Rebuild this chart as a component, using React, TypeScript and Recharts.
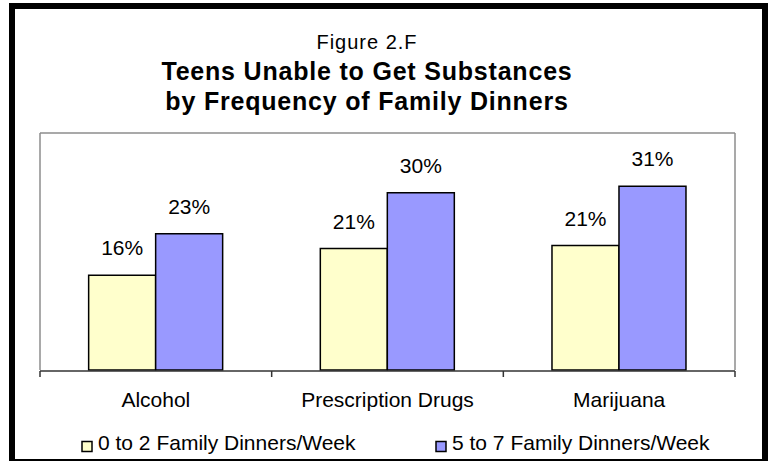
import React from 'react';
import { BarChart, Bar, XAxis, YAxis, LabelList } from 'recharts';

const categories = ['Alcohol', 'Prescription Drugs', 'Marijuana'];
const lowDinners = [16, 20.5, 21];
const highDinners = [23, 29.9, 31];
const seriesNames = ['0 to 2 Family Dinners/Week', '5 to 7 Family Dinners/Week'];
const seriesColors = ['#FFFFCC', '#9999FF'];
const figureLabel = 'Figure 2.F';
const titleLines = ['Teens Unable to Get Substances', 'by Frequency of Family Dinners'];
const boundaryTicks = [0, 1, 2, 3];

const data = categories.map((name, i) => ({
  name,
  pos: i + 0.5,
  low: lowDinners[i],
  high: highDinners[i],
}));

const FONT = '"Liberation Sans", Arial, sans-serif';
const fmt = (v: any) => `${Math.round(Number(v))}%`;

export default function App() {
  return (
    <div style={{ position: 'absolute', left: 0, top: 0, width: 775, height: 461, background: '#fff', fontFamily: FONT }}>
      <div style={{ position: 'absolute', left: 0, top: 0 }}>
        <BarChart
          width={775}
          height={461}
          data={data}
          margin={{ top: 132, right: 39, bottom: 60, left: 39 }}
          barCategoryGap="21%"
          barGap={0}
        >
          <XAxis
            xAxisId="ticks"
            type="number"
            dataKey="pos"
            domain={[0, 3]}
            ticks={boundaryTicks}
            height={30}
            axisLine={{ stroke: '#333', strokeWidth: 1.5 }}
            tickLine={{ stroke: '#333', strokeWidth: 1.5 }}
            tickSize={6}
            tickFormatter={() => ''}
            interval={0}
          />
          <XAxis
            xAxisId="main"
            dataKey="name"
            height={1}
            axisLine={false}
            tickLine={false}
            tickSize={0}
            tickMargin={22}
            interval={0}
            tick={{ fill: '#000', fontSize: 21, fontFamily: FONT }}
          />
          <XAxis
            xAxisId="top"
            orientation="top"
            dataKey="name"
            height={1}
            tick={false}
            tickLine={false}
            axisLine={{ stroke: '#8c8c8c', strokeWidth: 1.5 }}
          />
          <YAxis
            yAxisId="left"
            domain={[0, 40]}
            width={1}
            tick={false}
            tickLine={false}
            axisLine={{ stroke: '#8c8c8c', strokeWidth: 1.5 }}
          />
          <YAxis
            yAxisId="right"
            orientation="right"
            domain={[0, 40]}
            width={1}
            tick={false}
            tickLine={false}
            axisLine={{ stroke: '#8c8c8c', strokeWidth: 1.5 }}
          />
          <Bar
            dataKey="low"
            xAxisId="main"
            yAxisId="left"
            fill={seriesColors[0]}
            stroke="#000"
            strokeWidth={1.5}
            isAnimationActive={false}
          >
            <LabelList dataKey="low" position="top" offset={20} formatter={fmt} fill="#000" fontSize={21} fontFamily={FONT} />
          </Bar>
          <Bar
            dataKey="high"
            xAxisId="main"
            yAxisId="left"
            fill={seriesColors[1]}
            stroke="#000"
            strokeWidth={1.5}
            isAnimationActive={false}
          >
            <LabelList dataKey="high" position="top" offset={20} formatter={fmt} fill="#000" fontSize={21} fontFamily={FONT} />
          </Bar>
        </BarChart>
      </div>
      <svg width={775} height={461} style={{ position: 'absolute', left: 0, top: 0, pointerEvents: 'none' }}>
        <text x={367} y={49} textAnchor="middle" fontSize={20} letterSpacing={1} fontFamily={FONT} fill="#000">
          {figureLabel}
        </text>
        {titleLines.map((t, i) => (
          <text key={t} x={367} y={80 + i * 30} textAnchor="middle" fontSize={25} fontWeight="bold" letterSpacing={0.8} fontFamily={FONT} fill="#000">
            {t}
          </text>
        ))}
        {seriesNames.map((n, i) => {
          const sx = i === 0 ? 82 : 436;
          return (
            <g key={n}>
              <rect x={sx} y={441.5} width={10} height={10} fill={seriesColors[i]} stroke="#000" strokeWidth={1.5} />
              <text x={sx + 16} y={450} fontSize={21} fontFamily={FONT} fill="#000">
                {n}
              </text>
            </g>
          );
        })}
      </svg>
      <div
        style={{
          position: 'absolute',
          left: 9,
          top: 3,
          width: 759,
          height: 458,
          boxSizing: 'border-box',
          borderLeft: '6px solid #000',
          borderTop: '6px solid #000',
          borderRight: '6px solid #000',
          borderBottom: '2px solid #000',
        }}
      />
    </div>
  );
}
